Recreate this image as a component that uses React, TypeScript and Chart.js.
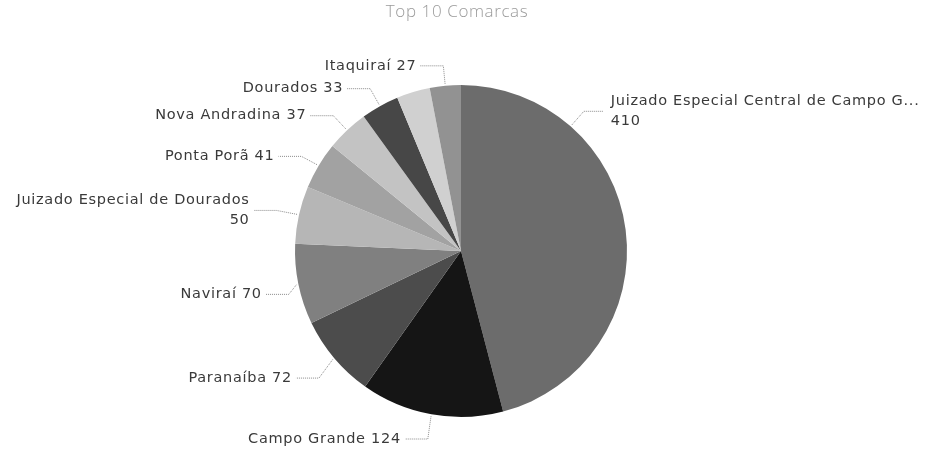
import React, { useEffect, useRef } from "react";
import { Chart, registerables } from "chart.js";

Chart.register(...registerables);

const TITLE = "Top 10 Comarcas";

const comarcas: string[] = [
  "Juizado Especial Central de Campo Grande",
  "Campo Grande",
  "Paranaíba",
  "Naviraí",
  "Juizado Especial de Dourados",
  "Ponta Porã",
  "Nova Andradina",
  "Dourados",
  "",
  "Itaquiraí",
];

const processos: number[] = [410, 124, 72, 70, 50, 41, 37, 33, 29, 27];

const showLabel: boolean[] = [true, true, true, true, true, true, true, true, false, true];

const sliceColors = [
  "#6c6c6c",
  "#151515",
  "#4c4c4c",
  "#808080",
  "#b6b6b6",
  "#a2a2a2",
  "#c3c3c3",
  "#474747",
  "#d0d0d0",
  "#929292",
];

// fraction of each slice's angular span where its leader line starts
const anchorFrac = [0.25, 0.5, 0.5, 0.5, 0.5, 0.5, 0.5, 0.5, 0.5, 0.5];
// small label nudges (collision spreading of the original layout)
const nudgeY = [0, 5, 7, 6, 0, 1, 0, 0, 0, 0];
const nudgeX = [0, 0, 0, 10, -3, 0, 0, 0, 0, 0];

const LABEL_FONT = '14.5px "DejaVu Sans", sans-serif';

const labelPlugin = {
  id: "outerLabels",
  afterDraw(chart: any) {
    const ctx: any = chart.ctx;
    ctx.save();
    // title
    ctx.font = '300 17px "Open Sans", sans-serif';
    ctx.letterSpacing = "0.6px";
    ctx.fillStyle = "#9a9a9a";
    ctx.textAlign = "center";
    ctx.textBaseline = "middle";
    ctx.fillText(TITLE, 457, 12);

    const meta = chart.getDatasetMeta(0);
    meta.data.forEach((arc: any, i: number) => {
      if (!showLabel[i]) return;
      const p = arc.getProps(["x", "y", "startAngle", "endAngle", "outerRadius"], true);
      const a = p.startAngle + (p.endAngle - p.startAngle) * anchorFrac[i];
      const cx = Math.cos(a);
      const sy = Math.sin(a);
      const r = p.outerRadius;
      const sx0 = p.x + (r + 2) * cx;
      const sy0 = p.y + (r + 2) * sy;
      const left = cx < 0;
      const ex = p.x + (r + 20) * cx + (left ? nudgeX[i] : -nudgeX[i]);
      const ey = p.y + (r + 20) * sy + nudgeY[i];
      const hx = ex + (left ? -23 : 20);

      ctx.letterSpacing = "0px";
      ctx.strokeStyle = "#8a8a8a";
      ctx.lineWidth = 1;
      ctx.setLineDash([1, 1]);
      ctx.beginPath();
      ctx.moveTo(sx0, sy0);
      ctx.lineTo(ex, ey);
      ctx.lineTo(hx, ey);
      ctx.stroke();
      ctx.setLineDash([]);

      ctx.font = LABEL_FONT;
      ctx.letterSpacing = "0.7px";
      ctx.fillStyle = "#3a3a3a";
      ctx.textAlign = left ? "right" : "left";
      ctx.textBaseline = "middle";
      const tx = hx + (left ? -4 : 7);
      let name = comarcas[i];
      const val = String(processos[i]);
      const maxW = 312;
      if (ctx.measureText(name).width > maxW) {
        while (name.length > 1 && ctx.measureText(name + "...").width > maxW) {
          name = name.slice(0, -1);
        }
        name = name.trimEnd() + "...";
      }
      if (comarcas[i].length > 20) {
        const lh = 20;
        ctx.fillText(name, tx, ey - lh / 2);
        ctx.fillText(val, tx, ey + lh / 2);
      } else {
        ctx.fillText(name + " " + val, tx, ey);
      }
    });
    ctx.restore();
  },
};

export default function App() {
  const ref = useRef<HTMLCanvasElement | null>(null);
  useEffect(() => {
    document.body.style.margin = "0";
    const chart = new Chart(ref.current as HTMLCanvasElement, {
      type: "pie",
      data: {
        labels: comarcas,
        datasets: [
          {
            data: processos,
            backgroundColor: sliceColors,
            borderWidth: 0,
          },
        ],
      },
      options: {
        responsive: false,
        animation: false,
        layout: { padding: { left: 100, right: 104, top: 85, bottom: 39 } },
        plugins: {
          legend: { display: false },
          tooltip: { enabled: false },
          title: { display: false },
        },
      },
      plugins: [labelPlugin],
    });
    return () => chart.destroy();
  }, []);
  return (
    <div style={{ position: "absolute", left: 0, top: 0, width: 926, height: 456, background: "#fff" }}>
      <canvas ref={ref} width={926} height={456} style={{ display: "block" }} />
    </div>
  );
}
